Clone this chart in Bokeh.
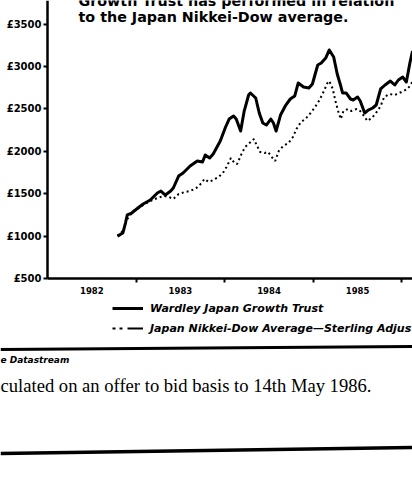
from bokeh.plotting import figure
from bokeh.models import (Range1d, FixedTicker, Label, Legend, LegendItem,
                          ColumnDataSource, LinearAxis)
from bokeh.embed import file_html
from bokeh.resources import INLINE

# ---------------- data ----------------
wardley_year = [1982.79, 1982.85, 1982.88, 1982.90, 1982.95, 1983.02, 1983.08, 1983.16,
                1983.24, 1983.28, 1983.33, 1983.39, 1983.42, 1983.48, 1983.53, 1983.61,
                1983.69, 1983.75, 1983.78, 1983.83, 1983.87, 1983.95, 1984.01, 1984.05,
                1984.10, 1984.13, 1984.18, 1984.22, 1984.27, 1984.29, 1984.35, 1984.39,
                1984.43, 1984.47, 1984.52, 1984.55, 1984.58, 1984.63, 1984.69, 1984.74,
                1984.79, 1984.83, 1984.89, 1984.95, 1984.99, 1985.05, 1985.09, 1985.14,
                1985.18, 1985.23, 1985.27, 1985.31, 1985.33, 1985.37, 1985.42, 1985.45,
                1985.50, 1985.53, 1985.58, 1985.62, 1985.67, 1985.71, 1985.76, 1985.81,
                1985.87, 1985.92, 1985.96, 1986.01, 1986.05, 1986.09, 1986.12]
wardley_value = [1000, 1036, 1154, 1249, 1272, 1331, 1378, 1425,
                 1508, 1531, 1484, 1531, 1567, 1708, 1744, 1826,
                 1885, 1873, 1956, 1920, 1968, 2121, 2286, 2380,
                 2416, 2380, 2239, 2474, 2663, 2687, 2628, 2451,
                 2333, 2309, 2380, 2333, 2239, 2427, 2545, 2616,
                 2651, 2805, 2757, 2746, 2793, 3017, 3040, 3099,
                 3194, 3111, 2911, 2769, 2687, 2687, 2616, 2604,
                 2640, 2592, 2451, 2486, 2510, 2545, 2734, 2781,
                 2828, 2781, 2840, 2875, 2816, 3040, 3182]

nikkei_year = [1982.79, 1982.85, 1982.90, 1982.97, 1983.03, 1983.08, 1983.16, 1983.24,
               1983.31, 1983.37, 1983.42, 1983.48, 1983.55, 1983.61, 1983.68, 1983.74,
               1983.77, 1983.82, 1983.87, 1983.93, 1983.98, 1984.02, 1984.07, 1984.11,
               1984.14, 1984.19, 1984.23, 1984.28, 1984.33, 1984.36, 1984.40, 1984.45,
               1984.49, 1984.54, 1984.57, 1984.61, 1984.66, 1984.72, 1984.77, 1984.81,
               1984.86, 1984.91, 1984.97, 1985.02, 1985.07, 1985.12, 1985.16, 1985.18,
               1985.22, 1985.25, 1985.28, 1985.31, 1985.34, 1985.39, 1985.43, 1985.49,
               1985.53, 1985.58, 1985.61, 1985.66, 1985.70, 1985.76, 1985.80, 1985.86,
               1985.92, 1985.97, 1986.02, 1986.06, 1986.10, 1986.12]
nikkei_value = [1000, 1060, 1201, 1296, 1331, 1366, 1413, 1449,
                1473, 1461, 1437, 1496, 1520, 1531, 1567, 1626,
                1673, 1638, 1661, 1697, 1744, 1814, 1920, 1861,
                1850, 1968, 2050, 2097, 2144, 2074, 1991, 1979,
                1991, 1920, 1885, 2003, 2062, 2097, 2168, 2262,
                2345, 2380, 2451, 2522, 2604, 2710, 2805, 2828,
                2734, 2592, 2474, 2380, 2474, 2498, 2474, 2498,
                2474, 2404, 2357, 2392, 2439, 2533, 2640, 2675,
                2663, 2687, 2710, 2734, 2781, 2828]

y_ticks = [500, 1000, 1500, 2000, 2500, 3000, 3500]
y_tick_labels = ["£500", "£1000", "£1500", "£2000", "£2500", "£3000", "£3500"]
year_centres = [1982.5, 1983.5, 1984.5, 1985.5]
year_labels = ["1982", "1983", "1984", "1985"]
year_bounds = [1983, 1984, 1985, 1986]

series_names = ["Wardley Japan Growth Trust",
                "Japan Nikkei-Dow Average\u2014Sterling Adjusted"]
title_lines = ["Growth Trust has performed in relation",
               "to the Japan Nikkei-Dow average."]
source_text = "e Datastream"
note_text = "culated on an offer to bid basis to 14th May 1986."

BOLD_SANS = "DejaVu Sans"
W, H = 412, 494

# One frame covers the whole canvas; the axes are pinned where the
# chart's axes sit (year 1982 and £500) and limited with bounds.
p = figure(width=W, height=H, output_backend="svg", toolbar_location=None,
           x_range=Range1d(1981.4695, 1986.1196),
           y_range=Range1d(-2046.2, 3777.1),
           x_axis_location=None, y_axis_location=None,
           min_border=0, min_border_left=0, min_border_right=0,
           min_border_top=0, min_border_bottom=0)
p.outline_line_color = None
p.grid.visible = False
p.background_fill_color = "white"
p.border_fill_color = "white"

# pixel ranges for the decorative rules of the cutting
p.extra_x_ranges = {"px": Range1d(0, W)}
p.extra_y_ranges = {"px": Range1d(H, 0)}

src_w = ColumnDataSource(dict(x=wardley_year, y=wardley_value))
src_n = ColumnDataSource(dict(x=nikkei_year, y=nikkei_value))

p.line("x", "y", source=src_n, line_color="black", line_width=2,
       line_dash="2 3")
r_w = p.line("x", "y", source=src_w, line_color="black", line_width=3,
             line_join="round")
nan = float("nan")
r_key = p.line(x=[nan, nan], y=[nan, nan], line_color="black",
               line_width=2.2, line_dash="3 4 3 5 16 40")

# y axis
ya = LinearAxis(fixed_location=1982.0, bounds=(500, 3777.1))
ya.ticker = FixedTicker(ticks=y_ticks)
ya.major_label_overrides = {t: l for t, l in zip(y_ticks, y_tick_labels)}
ya.axis_line_width = 2.5
ya.major_tick_in = 0
ya.major_tick_out = 4
ya.major_tick_line_width = 2
ya.minor_tick_line_color = None
ya.major_label_standoff = 2
ya.major_label_text_font = BOLD_SANS
ya.major_label_text_font_style = "bold"
ya.major_label_text_font_size = "10px"
ya.major_label_text_color = "black"
p.add_layout(ya, "left")

# x axis
xa = LinearAxis(fixed_location=500, bounds=(1982.0, 1986.1196))
xa.ticker = FixedTicker(ticks=year_centres, minor_ticks=year_bounds)
xa.major_label_overrides = {t: l for t, l in zip(year_centres, year_labels)}
xa.axis_line_width = 2.5
xa.major_tick_in = 0
xa.major_tick_out = 0
xa.minor_tick_in = 0
xa.minor_tick_out = 4
xa.minor_tick_line_width = 2
xa.minor_tick_line_color = "black"
xa.major_label_standoff = 4
xa.major_label_text_font = BOLD_SANS
xa.major_label_text_font_style = "bold"
xa.major_label_text_font_size = "8.5px"
xa.major_label_text_color = "black"
p.add_layout(xa, "below")


def sy(page_y):
    """screen y measured up from the frame bottom"""
    return H - page_y


# headline (two lines, the upper one cut by the crop as in the original)
for txt, base in zip(title_lines, [0, 16]):
    p.add_layout(Label(x=78, y=sy(base), x_units="screen", y_units="screen",
                       text=txt, text_font=BOLD_SANS, text_font_style="bold",
                       text_font_size="14.3px", text_color="black",
                       text_baseline="alphabetic"))

legend = Legend(items=[LegendItem(label=series_names[0], renderers=[r_w]),
                       LegendItem(label=series_names[1], renderers=[r_key])],
                location=(112, sy(300) - 36), orientation="vertical",
                padding=0, spacing=4, margin=0,
                glyph_width=31, glyph_height=16, label_height=16,
                label_standoff=7, border_line_color=None,
                background_fill_alpha=0,
                label_text_font=BOLD_SANS, label_text_font_style="bold italic",
                label_text_font_size="11px", label_text_color="black")
p.add_layout(legend, "center")

# rules of the cutting
p.line(x=[0, W], y=[349, 346], x_range_name="px", y_range_name="px",
       line_color="black", line_width=3)
p.line(x=[0, W], y=[453, 447], x_range_name="px", y_range_name="px",
       line_color="black", line_width=3.5)

p.add_layout(Label(x=0, y=sy(359), x_units="screen", y_units="screen",
                   text=source_text, text_font=BOLD_SANS,
                   text_font_style="bold italic", text_font_size="9px",
                   text_color="black", text_baseline="middle"))
p.add_layout(Label(x=0, y=sy(385), x_units="screen", y_units="screen",
                   text=note_text, text_font="Liberation Serif",
                   text_font_size="18.6px", text_color="black",
                   text_baseline="middle"))

open("out.html", "w").write(file_html(p, INLINE))
